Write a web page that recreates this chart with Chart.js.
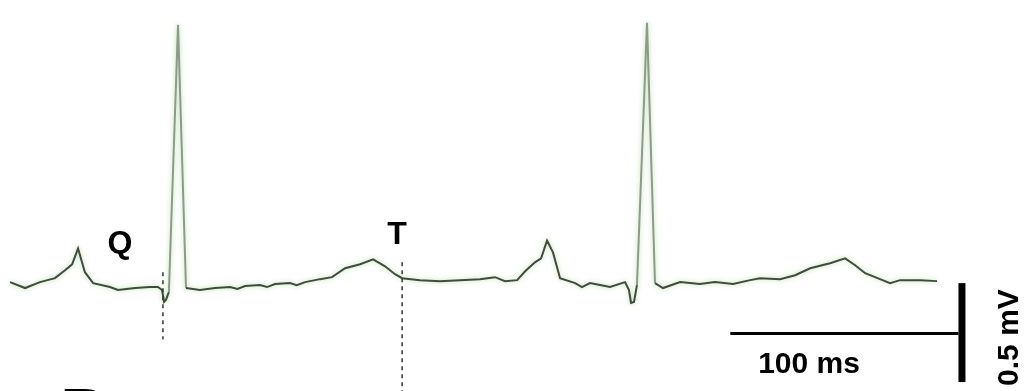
<!DOCTYPE html>
<html>
<head>
<meta charset="utf-8">
<script src="https://cdn.jsdelivr.net/npm/chart.js@4/dist/chart.umd.min.js"></script>
<style>
  html, body { margin: 0; padding: 0; background: #fff; }
  #wrap { width: 1027px; height: 391px; position: relative; }
</style>
</head>
<body>
<div id="wrap"><canvas id="ecgChart"></canvas></div>
<script>
// trace: time in ms, voltage in mV
const timeMs = [
  4.4, 11.0, 17.5, 24.1, 28.5, 31.6, 34.2, 37.2, 40.8, 48.2, 51.7, 59.2, 65.7, 69.2,
  71.0, 71.9, 72.7, 74.0, 78.0, 81.5,
  87.6, 94.2, 100.8, 104.0, 107.4, 113.9, 117.0, 120.5, 127.1, 130.0, 133.7, 140.2, 145.5, 151.2, 157.8,
  163.5, 168.7, 173.1, 176.2, 184.0, 192.8, 201.6, 210.3, 216.9, 221.3, 226.6,
  230.1, 234.4, 237.1, 239.7, 242.3, 245.4, 252.0, 255.0, 258.5, 262.9, 267.3,
  273.9, 275.6, 276.5, 277.8, 279.1, 283.5, 287.0,
  290.5, 298.0, 306.7, 313.3, 321.2, 328.7, 333.0, 341.8, 348.4, 355.0, 363.7,
  370.3, 374.7, 379.1, 385.6, 390.0, 394.4, 403.2, 410.6
];
const voltMv = [
  0.02, -0.01, 0.02, 0.04, 0.08, 0.11, 0.19, 0.07, 0.015, -0.005, -0.02, -0.01, -0.005, -0.005,
  -0.02, -0.08, -0.07, -0.03, 1.32, -0.01,
  -0.02, -0.01, -0.005, -0.015, 0.0, 0.005, -0.005, 0.01, 0.015, 0.005, 0.02, 0.035, 0.045, 0.09, 0.11,
  0.135, 0.10, 0.06, 0.04, 0.03, 0.025, 0.03, 0.035, 0.045, 0.025, 0.03,
  0.075, 0.12, 0.14, 0.23, 0.17, 0.04, 0.015, -0.005, 0.015, 0.005, -0.005,
  0.02, -0.02, -0.085, -0.08, 0.005, 1.33, 0.015,
  -0.01, 0.02, 0.01, 0.02, 0.01, 0.03, 0.04, 0.035, 0.055, 0.09, 0.115,
  0.14, 0.105, 0.065, 0.035, 0.015, 0.03, 0.03, 0.025
];

// annotation labels
const waveLabels = ['Q', 'T'];
const scaleLabels = ['100 ms', '0.5 mV'];

const points = timeMs.map((t, i) => ({ x: t, y: voltMv[i] }));

const overlay = {
  id: 'overlay',
  beforeDatasetDraw(chart) {
    const ctx = chart.ctx;
    ctx.save();
    ctx.shadowColor = 'rgba(120,190,100,0.55)';
    ctx.shadowBlur = 5;
  },
  afterDatasetDraw(chart) {
    chart.ctx.restore();
  },
  afterDraw(chart) {
    const ctx = chart.ctx;
    const xs = chart.scales.x, ys = chart.scales.y;
    const px = v => xs.getPixelForValue(v);
    const py = v => ys.getPixelForValue(v);
    ctx.save();

    // dashed markers at Q and end of T
    ctx.strokeStyle = '#333';
    ctx.lineWidth = 1.5;
    ctx.setLineDash([4, 4]);
    ctx.beginPath();
    ctx.moveTo(px(71.4), py(0.07));
    ctx.lineTo(px(71.4), py(-0.27));
    ctx.moveTo(px(176.2), py(0.12));
    ctx.lineTo(px(176.2), py(-0.53));
    ctx.stroke();
    ctx.setLineDash([]);

    // scale bars
    ctx.strokeStyle = '#000';
    ctx.lineWidth = 3;
    ctx.beginPath();
    ctx.moveTo(px(320), py(-0.24));
    ctx.lineTo(px(420), py(-0.24));
    ctx.stroke();
    ctx.lineWidth = 7;
    ctx.beginPath();
    ctx.moveTo(px(421.5), py(0.015));
    ctx.lineTo(px(421.5), py(-0.485));
    ctx.stroke();

    // text
    ctx.fillStyle = '#000';
    ctx.textAlign = 'center';
    ctx.textBaseline = 'alphabetic';
    ctx.font = 'bold 32px "Liberation Sans", Arial, sans-serif';
    ctx.fillText(waveLabels[0], px(52.6), py(0.165));
    ctx.fillText(waveLabels[1], px(174.0), py(0.215));
    ctx.font = 'bold 30px "Liberation Sans", Arial, sans-serif';
    ctx.fillText(scaleLabels[0], px(354.5), py(-0.44));
    ctx.save();
    ctx.translate(px(442.6), py(-0.26));
    ctx.rotate(-Math.PI / 2);
    ctx.textBaseline = 'middle';
    ctx.fillText(scaleLabels[1], 0, 0);
    ctx.restore();

    // panel letter, cut off at the bottom
    ctx.textAlign = 'left';
    ctx.font = 'bold 64px "Liberation Sans", Arial, sans-serif';
    ctx.fillText('B', px(26.5), py(-0.745));
    ctx.restore();
  }
};

new Chart(document.getElementById('ecgChart'), {
  type: 'line',
  data: {
    datasets: [{
      label: 'ECG',
      data: points,
      borderColor: '#414b3e',
      borderWidth: 2,
      pointRadius: 0,
      tension: 0,
      segment: {
        borderColor: c => (c.p0.parsed.y > 0.4 || c.p1.parsed.y > 0.4) ? '#8f9a8c' : undefined
      }
    }]
  },
  options: {
    responsive: true,
    maintainAspectRatio: false,
    animation: false,
    layout: { padding: 0 },
    plugins: { legend: { display: false }, tooltip: { enabled: false } },
    scales: {
      x: { type: 'linear', min: 0, max: 450, display: false },
      y: { min: -0.53, max: 1.445, display: false }
    }
  },
  plugins: [overlay]
});
</script>
</body>
</html>
